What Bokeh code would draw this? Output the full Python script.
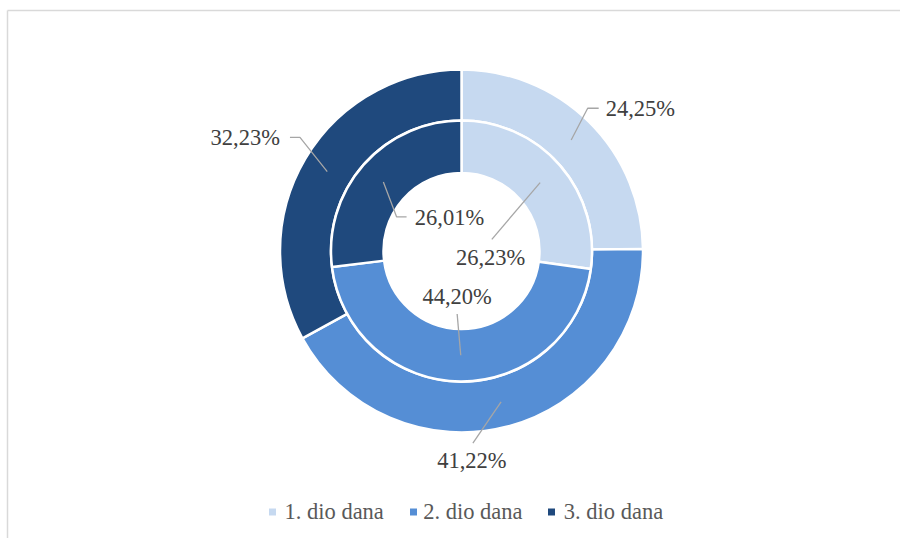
import math
from bokeh.plotting import figure
from bokeh.models import Range1d, ColumnDataSource
from bokeh.core.properties import value
from bokeh.embed import file_html
from bokeh.resources import INLINE

# ---- data ----
categories = ["1. dio dana", "2. dio dana", "3. dio dana"]
outer_values = [24.25, 41.22, 32.23]
inner_values = [26.23, 44.20, 26.01]
colors = ["#C6D9F0", "#558ED5", "#1F497D"]

# ---- layout (pixel-like data space; origin bottom-left of figure) ----
W, H = 900, 538
CX, CY = 461, H - 250.5
R_OUT = (130.5, 181.5)
R_IN = (78, 130.5)
FONT = value("Liberation Serif")
FS = "22.5px"
TXT_SHIFT = 8  # baseline correction

p = figure(width=W, height=H, output_backend="svg", toolbar_location=None,
           x_range=Range1d(0, W), y_range=Range1d(0, H), min_border=0)
p.axis.visible = False
p.grid.visible = False
p.outline_line_color = None
p.background_fill_color = "white"

# chart frame (top and left visible)
p.segment(x0=[7, 7], y0=[H - 10, 0], x1=[W, 7], y1=[H - 10, H - 10],
          line_color="#D9D9D9", line_width=1.5)


def ring(values, r0, r1):
    total = sum(values)
    starts, ends, mids = [], [], []
    cum = 0.0
    for v in values:
        a0 = cum / total
        cum += v
        a1 = cum / total
        starts.append(math.pi / 2 - 2 * math.pi * a1)
        ends.append(math.pi / 2 - 2 * math.pi * a0)
        mids.append(math.pi / 2 - math.pi * (a0 + a1))
    src = ColumnDataSource(dict(start=starts, end=ends, color=colors,
                                x=[CX] * len(values), y=[CY] * len(values)))
    p.annular_wedge(x="x", y="y", inner_radius=r0, outer_radius=r1,
                    start_angle="start", end_angle="end", fill_color="color",
                    line_color="white", line_width=2.5, source=src)
    rm = (r0 + r1) / 2
    return [(CX + rm * math.cos(m), CY + rm * math.sin(m)) for m in mids]


outer_pts = ring(outer_values, *R_OUT)
inner_pts = ring(inner_values, *R_IN)


def fmt(v):
    return f"{v:.2f}".replace(".", ",") + "%"


# label layout: leader offsets (screen dx, dy down) and text offset + align
outer_layout = [
    dict(path=[(16.5, -31.8), (27.5, -31.8)], text=(34.5, -23.8), align="left"),
    dict(path=[(-28.2, 41.3)], text=(-29.2, 66.5), align="center"),
    dict(path=[(-27.3, -34.1), (-37.3, -34.1)], text=(-47.3, -26.1), align="right"),
]
inner_layout = [
    dict(path=[(-48.3, 56.8)], text=(-49.5, 82.5), align="center"),
    dict(path=[(-3.6, -41.3)], text=(-3.6, -51.0), align="center"),
    dict(path=[(13.2, 34.8), (23.2, 34.8)], text=(31.5, 43.1), align="left"),
]

for pts, vals, lay in ((outer_pts, outer_values, outer_layout),
                       (inner_pts, inner_values, inner_layout)):
    for (sx, sy), v, L in zip(pts, vals, lay):
        xs = [sx] + [sx + dx for dx, dy in L["path"]]
        ys = [sy] + [sy - dy for dx, dy in L["path"]]
        p.line(xs, ys, line_color="#A6A6A6", line_width=1.3)
        tx, ty = L["text"]
        p.text(x=[sx + tx], y=[sy - ty + TXT_SHIFT], text=[fmt(v)],
               text_font=FONT, text_font_size=FS, text_color="#404040",
               text_align=L["align"], text_baseline="alphabetic")

# legend
leg_sq_x = [272, 413, 551]
leg_tx_x = [284, 422.7, 563.3]
leg_sq_y = H - 511.5
leg_tx_y = H - 518.3 + 7
p.rect(x=leg_sq_x, y=[leg_sq_y] * 3, width=7, height=7, fill_color=colors,
       line_color=None)
p.text(x=leg_tx_x, y=[leg_tx_y] * 3, text=categories, text_font=FONT,
       text_font_size=FS, text_color="#595959", text_align="left",
       text_baseline="alphabetic")

open("out.html", "w").write(file_html(p, INLINE))
